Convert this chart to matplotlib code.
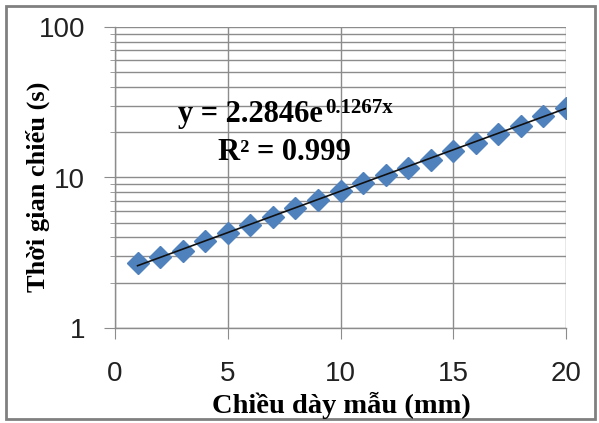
import numpy as np
import matplotlib
matplotlib.use('Agg')
import matplotlib.pyplot as plt
from matplotlib.patches import Rectangle
from matplotlib.ticker import LogLocator, NullFormatter, FixedLocator

# du lieu doc tu hinh
chieu_day = [1, 2, 3, 4, 5, 6, 7, 8, 9, 10, 11, 12, 13, 14, 15, 16, 17, 18, 19, 20]
thoi_gian = [2.70, 2.95, 3.25, 3.80, 4.25, 4.85, 5.45, 6.30, 7.05, 8.10,
             9.20, 10.4, 11.5, 13.1, 14.9, 17.0, 19.5, 21.9, 25.5, 29.0]
he_so_a = 2.2846
he_so_b = 0.1267
r2_text = '0.999'

blue = '#4F81BD'
grid_c = '#8C8C8C'
W, H = 599, 423

fig = plt.figure(figsize=(W / 100, H / 100), dpi=100)
ax = fig.add_axes([115 / W, 1 - 328 / H, 451 / W, 301 / H])

ax.set_yscale('log')
ax.set_xlim(0, 20)
ax.set_ylim(1, 100)

# luoi
ax.yaxis.set_minor_locator(LogLocator(base=10, subs=np.arange(2, 10), numticks=20))
ax.yaxis.set_minor_formatter(NullFormatter())
ax.set_yticks([1, 10, 100])
ax.set_yticklabels(['1', '10', '100'])
ax.xaxis.set_major_locator(FixedLocator([0, 5, 10, 15, 20]))
ax.grid(True, which='both', axis='y', color=grid_c, linewidth=1.0)
ax.grid(True, which='major', axis='x', color=grid_c, linewidth=1.0)
ax.set_axisbelow(True)

for s in ['top', 'right']:
    ax.spines[s].set_visible(False)
for s in ['left', 'bottom']:
    ax.spines[s].set_color(grid_c)
    ax.spines[s].set_linewidth(1.0)

ax.tick_params(axis='both', which='major', direction='out', length=8, color=grid_c,
               labelsize=20, labelcolor='#222222')
ax.tick_params(axis='y', which='minor', direction='out', length=3.5, color=grid_c)
ax.tick_params(axis='x', pad=16)
ax.tick_params(axis='y', pad=13.5)
for lab in ax.get_xticklabels() + ax.get_yticklabels():
    lab.set_fontfamily('Liberation Sans')

# du lieu + duong xu huong
ax.plot(chieu_day, thoi_gian, linestyle='none', marker='D', markersize=11,
        color=blue, markeredgecolor=blue, zorder=3)
xx = np.linspace(chieu_day[0], chieu_day[-1], 100)
ax.plot(xx, he_so_a * np.exp(he_so_b * xx), color='#111111', linewidth=1.2, zorder=4)

serif = 'Liberation Serif'
fig.text(178 / W, 1 - 122 / H, 'y = 2.2846e', fontsize=22, fontweight='bold',
         fontfamily=serif, ha='left', va='baseline')
fig.text(325 / W, 1 - 113 / H, '0.1267x', fontsize=15, fontweight='bold',
         fontfamily=serif, ha='left', va='baseline')
fig.text(218 / W, 1 - 160 / H, 'R² = ' + r2_text, fontsize=22, fontweight='bold',
         fontfamily=serif, ha='left', va='baseline')

fig.text(341 / W, 1 - 405 / H, 'Chiều dày mẫu (mm)', fontsize=20.5, fontweight='bold',
         fontfamily=serif, ha='center', va='center')
fig.text(38 / W, 1 - 187 / H, 'Thời gian chiếu (s)', fontsize=19, fontweight='bold',
         fontfamily=serif, ha='center', va='center', rotation=90)

# khung ngoai
fig.patches.append(Rectangle((6 / W, 4 / H), 589 / W, 413 / H, transform=fig.transFigure,
                             fill=False, edgecolor='#808080', linewidth=2))

fig.savefig('out.png', dpi=100)
